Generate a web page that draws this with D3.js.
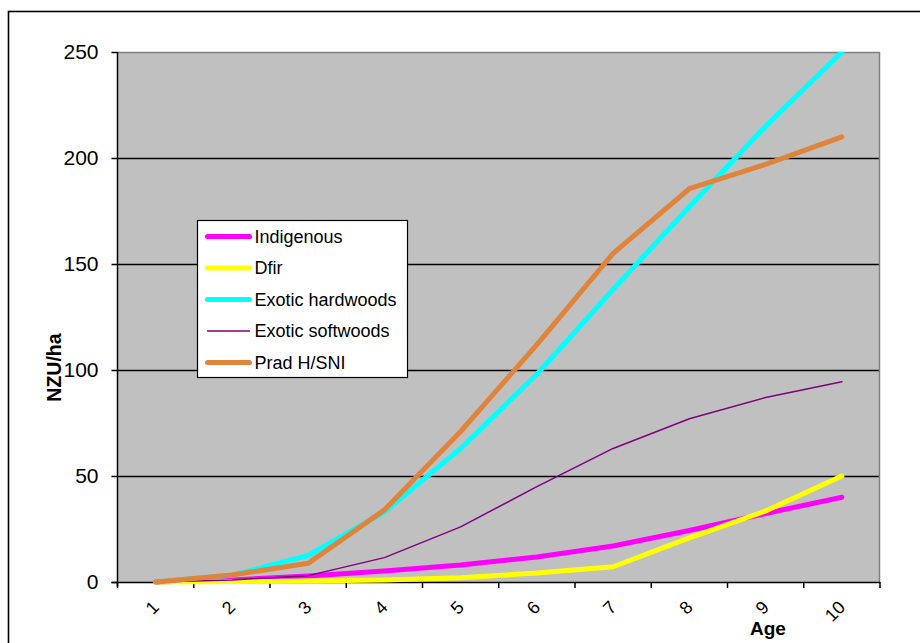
<!DOCTYPE html>
<html>
<head>
<meta charset="utf-8">
<script src="https://cdn.jsdelivr.net/npm/d3@7/dist/d3.min.js"></script>
<style>
  html, body { margin: 0; padding: 0; background: #fff; }
  svg { display: block; font-family: Arial, "Liberation Sans", sans-serif; }
</style>
</head>
<body>
<svg id="chart" width="920" height="643"></svg>
<script>
// Age categories (years)
const ages = ["1", "2", "3", "4", "5", "6", "7", "8", "9", "10"];
// NZU per hectare by age for each forest type
const indigenous       = [0, 1, 2.8, 5.2, 8, 11.8, 17, 24.3, 32.3, 40];
const dfir             = [0, 0.2, 0.5, 1, 2, 4.2, 7.2, 20.8, 33.5, 50];
const exoticHardwoods  = [0, 3.2, 12.5, 33, 63, 98, 138, 177, 215, 250];
const exoticSoftwoods  = [0, 1, 3, 11.5, 26, 45, 63, 77, 87, 94.5];
const pradHSNI         = [0, 3.3, 8.8, 34, 71, 112, 155, 185.5, 197, 210];
const yTicks = [0, 50, 100, 150, 200, 250];

const series = [
  { name: "Indigenous",        values: indigenous,      color: "#FF00FF", width: 5 },
  { name: "Dfir",              values: dfir,            color: "#FFFF00", width: 5 },
  { name: "Exotic hardwoods",  values: exoticHardwoods, color: "#00FFFF", width: 5 },
  { name: "Exotic softwoods",  values: exoticSoftwoods, color: "#800080", width: 1.5 },
  { name: "Prad H/SNI",        values: pradHSNI,        color: "#E0843C", width: 5 }
];

const svg = d3.select("#chart");
const plot = { left: 117.5, top: 52, right: 880, bottom: 582 };

// outer chart frame
svg.append("rect")
  .attr("x", 8.5).attr("y", 11.5)
  .attr("width", 940).attr("height", 700)
  .attr("fill", "#fff").attr("stroke", "#000").attr("stroke-width", 1.6);

const x = d3.scaleBand().domain(ages).range([plot.left, plot.right]).padding(0);
const y = d3.scaleLinear().domain([0, 250]).range([plot.bottom, plot.top]);

// plot area background
svg.append("rect")
  .attr("x", plot.left).attr("y", plot.top)
  .attr("width", plot.right - plot.left).attr("height", plot.bottom - plot.top)
  .attr("fill", "#C0C0C0");

// horizontal gridlines
svg.append("g")
  .selectAll("line")
  .data(yTicks.filter(v => v > 0 && v < 250))
  .join("line")
  .attr("x1", plot.left).attr("x2", plot.right)
  .attr("y1", d => Math.round(y(d)) + 0.5).attr("y2", d => Math.round(y(d)) + 0.5)
  .attr("stroke", "#000").attr("stroke-width", 1.3);

// plot border (top and right)
svg.append("path")
  .attr("d", `M${plot.left},${plot.top + 0.5}H${plot.right - 0.5}V${plot.bottom}`)
  .attr("fill", "none").attr("stroke", "#808080").attr("stroke-width", 1.5);

// y axis
const yAxis = d3.axisLeft(y).tickValues(yTicks).tickSize(6).tickPadding(12).tickFormat(d3.format("d"));
const gy = svg.append("g").attr("transform", `translate(${plot.left},0)`).call(yAxis);
gy.select(".domain").attr("stroke", "#000").attr("stroke-width", 1.5)
  .attr("d", `M0,${plot.top}V${plot.bottom + 5}`);
gy.selectAll(".tick line").attr("stroke", "#000").attr("stroke-width", 1.5);
gy.selectAll(".tick text").attr("font-size", 21).attr("fill", "#000")
  .attr("font-family", "Arial, 'Liberation Sans', sans-serif").attr("x", -19);

// x axis: ticks at band boundaries
const gx = svg.append("g").attr("transform", `translate(0,${plot.bottom})`);
gx.append("line").attr("x1", plot.left - 6).attr("x2", plot.right)
  .attr("y1", 0.5).attr("y2", 0.5).attr("stroke", "#000").attr("stroke-width", 1.5);
const boundaries = ages.map(a => x(a)).concat([plot.right]);
gx.selectAll("line.tk").data(boundaries).join("line").attr("class", "tk")
  .attr("x1", d => d).attr("x2", d => d).attr("y1", 0).attr("y2", 6)
  .attr("stroke", "#000").attr("stroke-width", 1.5);
gx.selectAll("text").data(ages).join("text")
  .attr("transform", d => `translate(${x(d) + x.bandwidth() / 2},${604 - plot.bottom}) rotate(-45)`)
  .attr("text-anchor", "end").attr("dy", "0.35em")
  .attr("font-size", 18).attr("fill", "#000")
  .text(d => d);

// axis titles
svg.append("text").attr("x", 768).attr("y", 635)
  .attr("text-anchor", "middle").attr("font-weight", "bold").attr("font-size", 19)
  .text("Age");
svg.append("text").attr("transform", "translate(61,367.5) rotate(-90)")
  .attr("text-anchor", "middle").attr("font-weight", "bold").attr("font-size", 19.5)
  .text("NZU/ha");

// series lines
const clip = svg.append("clipPath").attr("id", "plotclip").append("rect")
  .attr("x", plot.left).attr("y", plot.top)
  .attr("width", plot.right - plot.left).attr("height", plot.bottom - plot.top + 4);
const line = d3.line()
  .x((d, i) => x(ages[i]) + x.bandwidth() / 2)
  .y(d => y(d));
svg.append("g").attr("clip-path", "url(#plotclip)")
  .selectAll("path")
  .data(series)
  .join("path")
  .attr("d", s => line(s.values))
  .attr("fill", "none")
  .attr("stroke", s => s.color)
  .attr("stroke-width", s => s.width)
  .attr("stroke-linejoin", "round")
  .attr("stroke-linecap", "round");

// legend
const legend = svg.append("g").attr("transform", "translate(197.5,220.5)");
legend.append("rect").attr("width", 210).attr("height", 157)
  .attr("fill", "#fff").attr("stroke", "#000").attr("stroke-width", 1.2);
const rows = legend.selectAll("g.row").data(series).join("g").attr("class", "row")
  .attr("transform", (d, i) => `translate(0,${16 + i * 31.5})`);
rows.append("line").attr("x1", 10).attr("x2", 52).attr("y1", 0).attr("y2", 0)
  .attr("stroke", d => d.color).attr("stroke-width", d => d.width)
  .attr("stroke-linecap", "round");
rows.append("text").attr("x", 57).attr("dy", "0.35em")
  .attr("font-size", 18).attr("fill", "#000")
  .text(d => d.name);
</script>
</body>
</html>
